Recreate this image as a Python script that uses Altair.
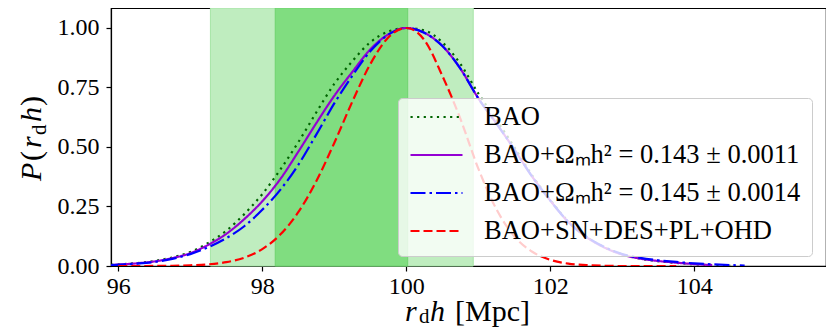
import altair as alt
import pandas as pd

# ---- data ----
x_grid = [95.9, 96.0, 96.25, 96.5, 96.75, 97.0, 97.25, 97.5, 97.75, 98.0, 98.25, 98.5,
          98.75, 99.0, 99.25, 99.5, 99.75, 100.0, 100.25, 100.5, 100.75, 101.0, 101.25,
          101.5, 101.75, 102.0, 102.25, 102.5, 102.75, 103.0, 103.25, 103.5, 103.75,
          104.0, 104.25, 104.5, 104.7]

series_names = ["BAO",
                "BAO+Ωₘh² = 0.143 ± 0.0011",
                "BAO+Ωₘh² = 0.145 ± 0.0014",
                "BAO+SN+DES+PL+OHD"]

y_bao = [0.005, 0.007, 0.012, 0.021, 0.036, 0.059, 0.097, 0.148, 0.218, 0.302, 0.405, 0.52,
         0.645, 0.765, 0.86, 0.94, 0.985, 1.0, 0.99, 0.94, 0.85, 0.725, 0.615, 0.5, 0.38,
         0.278, 0.187, 0.123, 0.079, 0.049, 0.031, 0.02, 0.013, 0.007, 0.004, 0.002, None]
y_om143 = [0.004, 0.006, 0.011, 0.019, 0.033, 0.054, 0.089, 0.135, 0.197, 0.272, 0.365, 0.48,
           0.6, 0.715, 0.815, 0.91, 0.973, 1.0, 0.98, 0.925, 0.83, 0.705, 0.6, 0.49, 0.375,
           0.275, 0.185, 0.122, 0.078, 0.048, 0.031, 0.021, 0.014, 0.008, 0.004, None, None]
y_om145 = [0.004, 0.005, 0.01, 0.017, 0.03, 0.05, 0.079, 0.117, 0.167, 0.236, 0.32, 0.425,
           0.552, 0.683, 0.799, 0.902, 0.972, 1.0, 0.98, 0.925, 0.83, 0.705, 0.6, 0.49, 0.375,
           0.275, 0.186, 0.124, 0.08, 0.05, 0.034, 0.024, 0.017, 0.011, 0.007, 0.004, 0.002]
y_all = [None, 0.0, 0.0, 0.0003, 0.001, 0.003, 0.007, 0.016, 0.035, 0.071, 0.132, 0.226,
         0.356, 0.517, 0.69, 0.848, 0.96, 1.0, 0.95, 0.8, 0.62, 0.41, 0.24, 0.125, 0.06,
         0.026, 0.01, 0.004, 0.001, 0.0, 0.0, 0.0, 0.0, None, None, None, None]

band_lo = [97.28, 98.18]
band_hi = [100.93, 100.02]
band_names = ["2sigma", "1sigma"]

x_ticks = [96, 98, 100, 102, 104]
y_ticks = [0.0, 0.25, 0.5, 0.75, 1.0]

line_colors = ["#006400", "#9400d3", "#0000ff", "#ff0000"]
line_dashes = [[2.2, 4.4], [1, 0], [15, 4, 2.5, 4], [9, 4]]
band_colors = ["#bfedbf", "#80dd80"]
band_edges = ["#a6e4a6", "#6fd36f"]

# ---- build tables ----
rows = []
for name, ys in zip(series_names, [y_bao, y_om143, y_om145, y_all]):
    for i, (xv, yv) in enumerate(zip(x_grid, ys)):
        if yv is not None:
            rows.append({"x": xv, "y": yv, "series": name, "i": i})
lines_df = pd.DataFrame(rows)
bands_df = pd.DataFrame({"lo": band_lo, "hi": band_hi, "band": band_names})

SERIF = "Liberation Serif"
W, H = 715, 258
XDOM = [95.899, 105.83]
YDOM = [0.0, 1.084]

xscale = alt.Scale(domain=XDOM, nice=False, zero=False)
yscale = alt.Scale(domain=YDOM, nice=False, zero=False)

bands = alt.Chart(bands_df).mark_rect(strokeWidth=1).encode(
    x=alt.X("lo:Q", scale=xscale,
            axis=alt.Axis(values=x_ticks, format="d", title="", grid=False)),
    x2="hi:Q",
    y=alt.datum(YDOM[0], scale=yscale),
    y2=alt.datum(YDOM[1]),
    fill=alt.Fill("band:N", scale=alt.Scale(domain=band_names, range=band_colors), legend=None),
    stroke=alt.Stroke("band:N", scale=alt.Scale(domain=band_names, range=band_edges), legend=None),
)

legend = alt.Legend(
    title=None, orient="none", legendX=287, legendY=90,
    symbolType="stroke", symbolSize=2704, symbolStrokeWidth=2.2,
    clipHeight=16, rowPadding=11, padding=11,
    labelFont=SERIF, labelFontSize=26.5, labelColor="black",
    labelOffset=20, labelLimit=600, symbolOffset=0,
    fillColor="rgba(255,255,255,0.8)", strokeColor="#cccccc",
    cornerRadius=4)

lines = alt.Chart(lines_df).mark_line(strokeWidth=2.2, clip=True, interpolate="monotone").encode(
    x=alt.X("x:Q", scale=xscale),
    y=alt.Y("y:Q", scale=yscale,
            axis=alt.Axis(values=y_ticks, format=".2f", title="", grid=False)),
    color=alt.Color("series:N", sort=series_names,
                    scale=alt.Scale(domain=series_names, range=line_colors),
                    legend=legend),
    strokeDash=alt.StrokeDash("series:N", sort=series_names,
                              scale=alt.Scale(domain=series_names, range=line_dashes),
                              legend=legend),
    detail="series:N",
    order="i:Q",
)

anchor = pd.DataFrame({"k": [0]})


def piece(text, x, y, size, italic=False, angle=0):
    return alt.Chart(anchor).mark_text(
        text=text, font=SERIF, fontSize=size,
        fontStyle="italic" if italic else "normal",
        align="left", baseline="alphabetic", angle=angle, color="black",
    ).encode(x=alt.value(x), y=alt.value(y))


# x title:  r_d h [Mpc]
xt = [
    piece("r", 294, 313, 30, italic=True),
    piece("d", 308, 315, 21),
    piece("h", 319, 313, 30, italic=True),
    piece("[Mpc]", 344, 313, 30),
]
# y title:  P(r_d h)  rotated
yt = [
    piece("P", -70, 173, 30, italic=True, angle=270),
    piece("(", -70, 153, 30, angle=270),
    piece("r", -70, 140, 30, italic=True, angle=270),
    piece("d", -65, 127, 21, angle=270),
    piece("h", -70, 114, 30, italic=True, angle=270),
    piece(")", -70, 98, 30, angle=270),
]

chart = alt.layer(bands, lines, *xt, *yt).properties(
    width=W, height=H,
    padding={"left": 103, "top": 0, "right": 0, "bottom": 62},
    autosize=alt.AutoSizeParams(type="none"),
).configure_view(
    stroke="black", strokeWidth=1.2
).configure_axis(
    labelFont=SERIF, labelFontSize=24, labelColor="black",
    domainColor="black", domainWidth=1.2, tickColor="black", tickSize=5, tickWidth=1.2,
    labelPadding=3, grid=False,
).configure_axisY(labelPadding=7)

chart.save("out.html", embed_options={"renderer": "svg", "actions": False})
